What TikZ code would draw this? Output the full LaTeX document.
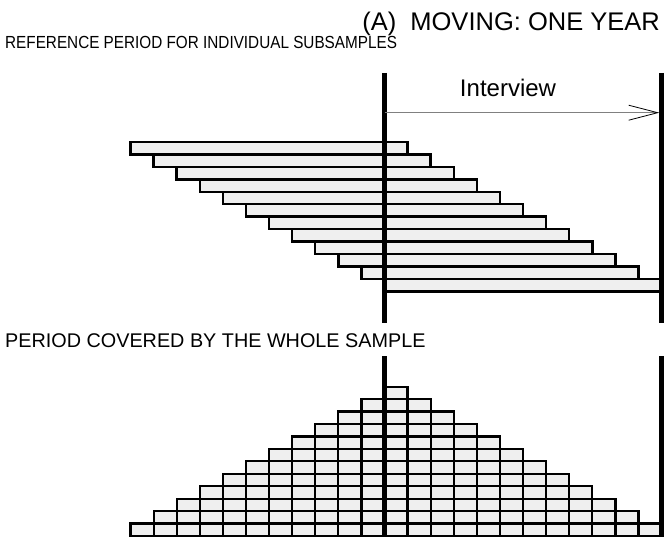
\documentclass[tikz,border=0pt]{standalone}
\usepackage{fontspec}
\setmainfont{Liberation Sans}
\usetikzlibrary{arrows.meta}
\definecolor{barfill}{HTML}{EFEFEF}

\begin{document}
\begin{tikzpicture}[x=1pt, y=-1pt,
      bar/.style={draw=black, fill=barfill, line width=2.4pt},
      cell/.style={draw=black, fill=barfill, line width=2.2pt},
      axis/.style={draw=black, line width=4.5pt},
      heading/.style={anchor=base west, inner sep=0pt},
      ]
      \useasboundingbox (0,0) rectangle (664,537);
      \def\w{23.09}
      \def\h{12.45}
      \def\xo{384.5}

      % upper panel: one bar per subsample
      \node[anchor=base east, inner sep=0pt, font=\fontsize{25.5}{30}\selectfont] (title) at (660,30.7) {(A)\ \ MOVING: ONE YEAR};
      \node[heading, xscale=0.874, font=\fontsize{17.5}{21}\selectfont] (subs) at (5,48.3) {REFERENCE PERIOD FOR INDIVIDUAL SUBSAMPLES};
      \foreach \i in {0,...,11}
        \draw[bar] ({\xo+(\i-11)*\w},{142+\i*\h}) rectangle ({\xo+(\i+1)*\w},{142+(\i+1)*\h});

      \coordinate (L1) at (\xo,73);
      \coordinate (L2) at (\xo,323);
      \coordinate (R1) at ({\xo+12*\w},73);
      \coordinate (R2) at ({\xo+12*\w},323);
      \draw[axis] (L1) -- (L2);
      \draw[axis] (R1) -- (R2);

      \coordinate (ivA) at (\xo,112.7);
      \coordinate (ivB) at ({\xo+12*\w},112.7);
      \draw[gray, line width=1pt, shorten >=2.3pt, -{Straight Barb[length=29pt, width=15pt, color=black, line width=0.8pt]}] (ivA) -- (ivB);
      \node[anchor=base, inner sep=0pt, font=\fontsize{24}{28}\selectfont] (intv) at (508,97) {Interview};

      % lower panel: months covered by the whole sample
      \node[heading, font=\fontsize{19.8}{23}\selectfont] (whole) at (5,347) {PERIOD COVERED BY THE WHOLE SAMPLE};
      \foreach \m in {-11,...,11} {
        \pgfmathtruncatemacro\n{12-abs(\m)}
        \foreach \j in {1,...,\n}
          \draw[cell] ({\xo+(\m)*\w},{536-\j*\h}) rectangle ++(\w,\h);
      }

      \coordinate (L3) at (\xo,356);
      \coordinate (L4) at (\xo,540);
      \coordinate (R3) at ({\xo+12*\w},356);
      \coordinate (R4) at ({\xo+12*\w},540);
      \draw[axis] (L3) -- (L4);
      \draw[axis] (R3) -- (R4);
    \end{tikzpicture}
\end{document}
